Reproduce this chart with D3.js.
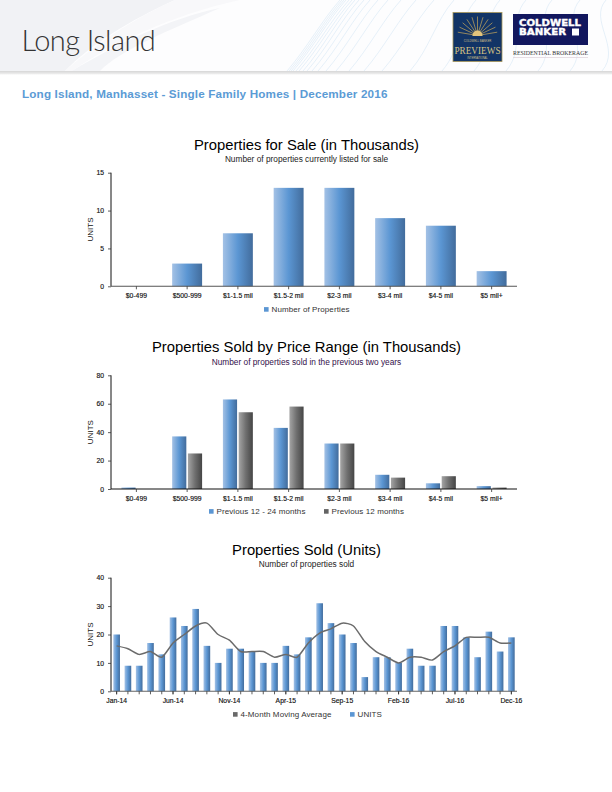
<!DOCTYPE html>
<html><head><meta charset="utf-8">
<script src="https://cdn.jsdelivr.net/npm/d3@7"></script>
<style>
html,body{margin:0;padding:0;background:#fff}
svg{display:block}
text{font-family:"Liberation Sans",Arial,sans-serif}
</style></head><body>
<svg id="page" width="612" height="792" viewBox="0 0 612 792"></svg>
<script>
const priceRanges = ["$0-499","$500-999","$1-1.5 mil","$1.5-2 mil","$2-3 mil","$3-4 mil","$4-5 mil","$5 mil+"];
const forSale = [0,3,7,13,13,9,8,2];
const sold1224 = [1,37,63,43,32,10,4,2];
const sold12 = [0,25,54,58,32,8,9,1];
const months = ["Jan-14","Feb-14","Mar-14","Apr-14","May-14","Jun-14","Jul-14","Aug-14","Sep-14","Oct-14","Nov-14","Dec-14",
 "Jan-15","Feb-15","Mar-15","Apr-15","May-15","Jun-15","Jul-15","Aug-15","Sep-15","Oct-15","Nov-15","Dec-15",
 "Jan-16","Feb-16","Mar-16","Apr-16","May-16","Jun-16","Jul-16","Aug-16","Sep-16","Oct-16","Nov-16","Dec-16"];
const units = [20,9,9,17,13,26,23,29,16,10,15,15,14,10,10,16,13,19,31,24,20,17,5,12,12,10,15,9,9,23,23,19,12,21,14,19];
const movingAvg = [16,15,13,14,12,17,20,23,24,20,18,14,14,14,12,13,12,17,20.5,22,24,23,17.5,14,12,10,12,12,11,14,16,19,19,19,17,17];
const monthTicks = ["Jan-14","Jun-14","Nov-14","Apr-15","Sep-15","Feb-16","Jul-16","Dec-16"];

const svg = d3.select("#page");
const defs = svg.append("defs");
function grad(id, stops, x2=1, y2=0){
  const g = defs.append("linearGradient").attr("id",id).attr("x1",0).attr("y1",0).attr("x2",x2).attr("y2",y2);
  stops.forEach(s=>g.append("stop").attr("offset",s[0]).attr("stop-color",s[1]));
}
grad("blueBar",[[0,"#a3c1e5"],[0.5,"#5b96d3"],[1,"#426c9c"]]);
grad("greyBar",[[0,"#a5a5a5"],[0.5,"#6f6f6f"],[1,"#454545"]]);
grad("headShadow",[[0,"#d6d6d6"],[1,"#f2f2f2"]],0,1);

/* header */
const head = svg.append("g");
head.append("rect").attr("width",612).attr("height",71).attr("fill","#fdfdfe");
head.append("path").attr("d","M0,0 L175,0 C130,20 90,45 65,71 L0,71Z").attr("fill","#f1f2f5");
head.append("path").attr("d","M72,71 C110,45 170,15 240,0 L175,0 C130,20 95,45 65,71Z").attr("fill","#f8f8fa");
head.append("path").attr("d","M72,71 C115,45 170,18 220,8 C170,30 120,50 100,71Z").attr("fill","#f3f4f7");
const topX = [340,342,344,346,349,352,355,359,364,370,378,388,401,416,434,454,476,500,526,552,580,606];
const botX = [287,289,291,293,296,299,303,307,312,318,326,336,349,364,382,410,442,474,506,538,570,602];
head.selectAll("path.wave").data(topX).join("path").attr("class","wave")
  .attr("fill","none").attr("stroke","#c3dcf1").attr("stroke-width",.55).attr("opacity",.75)
  .attr("d",(d,i)=>`M${botX[i]},71 C${botX[i]+20},48 ${d-18},20 ${d},0`);
head.append("rect").attr("y",71).attr("width",612).attr("height",3.5).attr("fill","url(#headShadow)");
head.append("text").attr("x",21.5).attr("y",51).attr("font-size",29).attr("fill","#333")
  .style("font-family","Lato, 'Open Sans'").style("font-weight",300).attr("letter-spacing",-0.55).text("Long Island");

/* Previews logo */
const pv = head.append("g").attr("transform","translate(453,12.5)");
pv.append("rect").attr("width",49).attr("height",49).attr("fill","#123466").attr("stroke","#a89658").attr("stroke-width",.8);
pv.selectAll("line").data(d3.range(-80,81,16)).join("line")
  .attr("x1",24.5).attr("y1",23).attr("stroke","#c9a95a").attr("stroke-width",.7)
  .attr("x2",d=>24.5+20*Math.sin(d*Math.PI/180)).attr("y2",d=>23-19*Math.cos(d*Math.PI/180));
pv.append("circle").attr("cx",24.5).attr("cy",23).attr("r",5).attr("fill","#e2c47c");
pv.append("rect").attr("y",23.5).attr("x",1).attr("width",47).attr("height",25).attr("fill","#123466");
pv.append("text").attr("x",24.5).attr("y",29).attr("text-anchor","middle").attr("font-size",2.8).attr("fill","#d5c28a").text("COLDWELL BANKER");
pv.append("text").attr("x",24.5).attr("y",41).attr("text-anchor","middle").attr("font-size",11).attr("fill","#d9c483")
  .style("font-family","'Liberation Serif',serif").attr("textLength",46).attr("lengthAdjust","spacingAndGlyphs").text("PREVIEWS");
pv.append("text").attr("x",24.5).attr("y",46).attr("text-anchor","middle").attr("font-size",2.6).attr("fill","#d5c28a").text("INTERNATIONAL");
/* Coldwell Banker logo */
const cb = head.append("g").attr("transform","translate(513,14)");
cb.append("rect").attr("width",75).attr("height",31).attr("fill","#12175e");
cb.append("text").attr("x",37).attr("y",11.6).attr("text-anchor","middle").attr("font-size",8).attr("font-weight",700).attr("fill","#fff").attr("stroke","#fff").attr("stroke-width",.35)
  .attr("textLength",62).attr("lengthAdjust","spacingAndGlyphs").style("font-family","'DejaVu Sans'").text("COLDWELL");
cb.append("text").attr("x",6).attr("y",21.2).attr("font-size",8).attr("font-weight",700).attr("fill","#fff").attr("stroke","#fff").attr("stroke-width",.35)
  .attr("textLength",47).attr("lengthAdjust","spacingAndGlyphs").style("font-family","'DejaVu Sans'").text("BANKER");
cb.append("rect").attr("x",59).attr("y",14.5).attr("width",7).attr("height",7).attr("fill","#fff");
cb.append("text").attr("x",37.5).attr("y",41).attr("text-anchor","middle").attr("font-size",6.6).attr("fill","#333")
  .style("font-family","'Liberation Serif',serif").attr("textLength",75).attr("lengthAdjust","spacingAndGlyphs").text("RESIDENTIAL BROKERAGE");
cb.append("line").attr("x1",0).attr("x2",75).attr("y1",43.5).attr("y2",43.5).attr("stroke","#ddd0d8").attr("stroke-width",.7);

svg.append("text").attr("x",22).attr("y",98).attr("font-size",11.7).attr("font-weight",700).attr("fill","#5b9bd5")
  .attr("letter-spacing",.16).text("Long Island, Manhasset - Single Family Homes | December 2016");

/* chart frame */
const L=111, R=517;
function frame(o){
  const g = svg.append("g");
  const y = d3.scaleLinear().domain([0,o.yMax]).range([o.base,o.top]);
  const x = d3.scaleBand().domain(o.cats).range([L,R]).paddingInner(o.pad).paddingOuter(o.pad/2);
  g.append("text").attr("x",306.5).attr("y",o.base-136+o.titleDy).attr("text-anchor","middle").attr("font-size",14.8).attr("fill","#000").text(o.title);
  g.append("text").attr("x",306.5).attr("y",o.base-123.5+o.titleDy).attr("text-anchor","middle").attr("font-size",8.3).attr("fill",o.subColor).text(o.sub);
  g.append("text").attr("transform",`translate(93,${(o.base+o.top)/2}) rotate(-90)`).attr("text-anchor","middle").attr("font-size",8).attr("fill","#111").text("UNITS");
  return {g,x,y};
}
function axes(g,x,y,o){
  const ay = g.append("g").attr("transform",`translate(${L},0)`).call(d3.axisLeft(y).tickValues(o.yTicks).tickSize(3).tickPadding(4));
  const ax = g.append("g").attr("transform",`translate(0,${o.base})`).call(d3.axisBottom(x).tickValues(o.xTicks||o.cats).tickSize(3).tickPadding(4).tickSizeOuter(0));
  if(o.minor) g.append("g").selectAll("line").data(o.cats).join("line").attr("x1",d=>x(d)+x.bandwidth()/2).attr("x2",d=>x(d)+x.bandwidth()/2).attr("y1",o.base).attr("y2",o.base+3).attr("stroke","#333").attr("stroke-width",.8);
  [ay,ax].forEach(a=>{a.selectAll("text").attr("font-size",6.8).attr("fill","#111").style("font-family","'Liberation Sans'").style("font-weight",400).attr("stroke","#111").attr("stroke-width",.15);
    a.selectAll("line").attr("stroke","#333").attr("stroke-width",.8);});
  ay.select(".domain").attr("stroke","#111").attr("stroke-width",1).attr("d",`M0,${o.top}V${o.base}`);
  ax.select(".domain").attr("stroke",o.baseColor).attr("stroke-width",1.1).attr("d",`M${L},0H${R}`);
  ax.selectAll("text").attr("dy","0.71em");
}
function legend(g,items,y){
  items.forEach(it=>{
    g.append("rect").attr("x",it.x).attr("y",y-2.4).attr("width",4.6).attr("height",4.6).attr("fill",it.c);
    g.append("text").attr("x",it.x+7.5).attr("y",y+2.9).attr("font-size",8).attr("letter-spacing",.1).attr("fill","#333").text(it.t);
  });
}
function bars(g,data,x,w,offset,y,fill,base){
  g.append("g").selectAll("rect").data(data.filter(d=>d.v>0)).join("rect")
   .attr("x",d=>x(d.c)+offset).attr("width",w).attr("y",d=>y(d.v)).attr("height",d=>base-y(d.v)).attr("fill",fill);
}

/* chart 1 */
{
  const o={cats:priceRanges,yMax:15,yTicks:[0,5,10,15],base:286.3,top:172.7,pad:.41,title:"Properties for Sale (in Thousands)",sub:"Number of properties currently listed for sale",subColor:"#222",titleDy:-0.5,baseColor:"#555"};
  const {g,x,y}=frame(o);
  bars(g,priceRanges.map((c,i)=>({c,v:forSale[i]})),x,x.bandwidth(),0,y,"url(#blueBar)",o.base);
  axes(g,x,y,o);
  legend(g,[{x:264,c:"#5b96d3",t:"Number of Properties"}],309.5);
}
/* chart 2 */
{
  const o={cats:priceRanges,yMax:80,yTicks:[0,20,40,60,80],base:489,top:375.3,pad:.41,title:"Properties Sold by Price Range (in Thousands)",sub:"Number of properties sold in the previous two years",subColor:"#33104a",titleDy:-0.8,baseColor:"#111"};
  const {g,x,y}=frame(o);
  const w=x.bandwidth()/2-.8;
  bars(g,priceRanges.map((c,i)=>({c,v:sold1224[i]})),x,w,0,y,"url(#blueBar)",o.base);
  bars(g,priceRanges.map((c,i)=>({c,v:sold12[i]})),x,w,x.bandwidth()/2+.8,y,"url(#greyBar)",o.base);
  axes(g,x,y,o);
  legend(g,[{x:209,c:"#5b96d3",t:"Previous 12 - 24 months"},{x:324,c:"#636363",t:"Previous 12 months"}],511.5);
}
/* chart 3 */
{
  const o={cats:months,yMax:40,yTicks:[0,10,20,30,40],xTicks:monthTicks,minor:true,base:691.3,top:577.7,pad:.41,title:"Properties Sold (Units)",sub:"Number of properties sold",subColor:"#222",titleDy:-0.5,baseColor:"#666"};
  const {g,x,y}=frame(o);
  bars(g,months.map((c,i)=>({c,v:units[i]})),x,x.bandwidth(),0,y,"url(#blueBar)",o.base);
  axes(g,x,y,o);
  const line=d3.line().x((d,i)=>x(months[i])+x.bandwidth()/2).y(d=>y(d)).curve(d3.curveCardinal.tension(.3));
  g.append("path").attr("d",line(movingAvg)).attr("fill","none").attr("stroke","#6b6b6b").attr("stroke-width",1.5);
  legend(g,[{x:233,c:"#696969",t:"4-Month Moving Average"},{x:350,c:"#5b96d3",t:"UNITS"}],714.5);
}
</script>
</body></html>
